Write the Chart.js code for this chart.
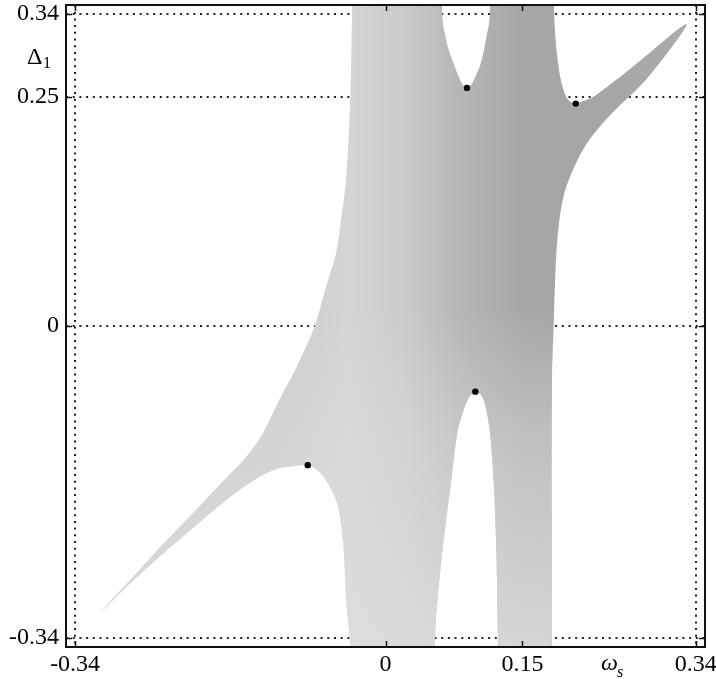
<!DOCTYPE html>
<html lang="en">
<head>
<meta charset="UTF-8" />
<title>Δ1 – ωs region</title>
<script src="https://cdn.jsdelivr.net/npm/chart.js"></script>
<style>
  html, body { margin: 0; padding: 0; background: #fff; }
  canvas { display: block; }
</style>
</head>
<body>
<canvas id="chart" width="716" height="679"></canvas>
<script>
const xTicks = [-0.34, 0, 0.15, 0.34];
const yTicks = [-0.34, 0, 0.25, 0.34];

// outline of the shaded region, clockwise from the top left
// (points at +-0.40 lie outside the axes and are clipped away)
const regionX = [
  -0.0362, 0.0614, 0.0619, 0.0630, 0.0647, 0.0691, 0.0757, 0.0795, 0.0830, 0.0860,
  0.0893, 0.0928, 0.0960, 0.0995, 0.1035, 0.1080, 0.1115, 0.1135, 0.1146, 0.1148,
  0.1843, 0.1846, 0.1855, 0.1872, 0.1900, 0.1927, 0.1974, 0.2025, 0.2084, 0.2160,
  0.2270, 0.2676, 0.3298, 0.2859, 0.2490, 0.2237, 0.2091, 0.1982, 0.1927, 0.1890,
  0.1864, 0.1843, 0.1824, 0.1821, 0.1821, 0.1232, 0.1232, 0.1225, 0.1214, 0.1184,
  0.1141, 0.1086, 0.1040, 0.0984, 0.0930, 0.0885, 0.0793, 0.0721, 0.0628, 0.0556,
  0.0540, 0.0537, -0.0385, -0.0388, -0.0430, -0.0460, -0.0504, -0.0541, -0.0650, -0.0760,
  -0.0852, -0.1017, -0.1200, -0.1382, -0.1747, -0.2113, -0.2479, -0.2844, -0.3118, -0.2665,
  -0.2479, -0.2113, -0.1747, -0.1546, -0.1360, -0.1163, -0.0979, -0.0779, -0.0650, -0.0541,
  -0.0486, -0.0439, -0.0413, -0.0395, -0.0380, -0.0366
];
const regionY = [
  0.40, 0.40, 0.345, 0.330, 0.3204, 0.3015, 0.2836, 0.2735, 0.2658, 0.2615,
  0.2590, 0.2615, 0.2665, 0.2745, 0.2836, 0.3015, 0.3204, 0.330, 0.345, 0.40,
  0.40, 0.345, 0.325, 0.3019, 0.2800, 0.2655, 0.2508, 0.2445, 0.2425, 0.2450,
  0.2494, 0.2800, 0.3292, 0.2691, 0.2330, 0.2035, 0.1784, 0.1525, 0.1306, 0.1019,
  0.0650, 0.0035, -0.0587, -0.345, -0.40, -0.40, -0.345, -0.30, -0.2410, -0.1681,
  -0.1134, -0.0839, -0.0745, -0.0716, -0.0760, -0.0839, -0.1134, -0.1681, -0.2410, -0.3134,
  -0.345, -0.40, -0.40, -0.345, -0.30, -0.24, -0.2042, -0.1899, -0.1681, -0.1560,
  -0.1517, -0.1530, -0.1561, -0.1645, -0.1899, -0.2205, -0.2519, -0.2850, -0.3120, -0.2628,
  -0.2424, -0.2045, -0.1659, -0.1451, -0.1200, -0.0806, -0.0457, -0.0009, 0.0432, 0.0800,
  0.1161, 0.1525, 0.1893, 0.2254, 0.2700, 0.345
];

// marked points
const markX = [0.0893, 0.2084, 0.0984, -0.0852];
const markY = [0.2596, 0.2425, -0.0716, -0.1517];

const regionData = regionX.map((x, i) => ({x, y: regionY[i]}));
const markData = markX.map((x, i) => ({x, y: markY[i]}));

function sideShade(c) {
  const ch = c.chart;
  if (!ch.chartArea) return '#c0c0c0';
  const sx = ch.scales.x;
  const x0 = sx.getPixelForValue(-0.35), x1 = sx.getPixelForValue(0.35);
  const g = ch.ctx.createLinearGradient(x0, 0, x1, 0);
  const at = v => (v + 0.35) / 0.7;
  g.addColorStop(at(-0.35), '#c6c6c6');
  g.addColorStop(at(-0.12), '#cbcbcb');
  g.addColorStop(at(-0.04), '#d5d5d5');
  g.addColorStop(at(0.02), '#cbcbcb');
  g.addColorStop(at(0.08), '#b6b6b6');
  g.addColorStop(at(0.15), '#a7a7a7');
  g.addColorStop(at(0.22), '#a5a5a5');
  g.addColorStop(at(0.35), '#acacac');
  return g;
}

function lowShade(c) {
  const ch = c.chart;
  if (!ch.chartArea) return 'rgba(0,0,0,0)';
  const sy = ch.scales.y;
  const y0 = sy.getPixelForValue(0.35), y1 = sy.getPixelForValue(-0.35);
  const g = ch.ctx.createLinearGradient(0, y0, 0, y1);
  const at = v => (0.35 - v) / 0.7;
  g.addColorStop(at(0.35), 'rgba(222,222,222,0)');
  g.addColorStop(at(0.02), 'rgba(222,222,222,0)');
  g.addColorStop(at(-0.12), 'rgba(222,222,222,0.45)');
  g.addColorStop(at(-0.35), 'rgba(222,222,222,0.85)');
  return g;
}

const framePlugin = {
  id: 'frame',
  afterDraw(chart) {
    const {ctx, chartArea: a, scales: {x, y}} = chart;
    ctx.save();
    ctx.strokeStyle = '#111';
    ctx.lineWidth = 1.5;
    ctx.beginPath();
    xTicks.forEach(v => {
      const p = Math.round(x.getPixelForValue(v)) + 0.5;
      ctx.moveTo(p, a.top); ctx.lineTo(p, a.top + 6);
      ctx.moveTo(p, a.bottom); ctx.lineTo(p, a.bottom - 6);
    });
    yTicks.forEach(v => {
      const p = Math.round(y.getPixelForValue(v)) + 0.5;
      ctx.moveTo(a.left, p); ctx.lineTo(a.left + 6, p);
      ctx.moveTo(a.right, p); ctx.lineTo(a.right - 6, p);
    });
    ctx.stroke();
    ctx.lineWidth = 2;
    ctx.strokeRect(a.left, a.top, a.right - a.left, a.bottom - a.top);

    ctx.fillStyle = '#000';
    ctx.textBaseline = 'alphabetic';
    ctx.font = '24px "Liberation Serif"';
    ctx.fillText('Δ', 27, 64);
    ctx.font = '16px "Liberation Serif"';
    ctx.fillText('1', 43, 68);
    ctx.font = 'italic 24px "Liberation Serif"';
    ctx.fillText('ω', 601, 670);
    ctx.font = 'italic 16px "Liberation Serif"';
    ctx.fillText('s', 617, 677);
    ctx.restore();
  }
};

const tickFont = {family: '"Liberation Serif", serif', size: 24};
const gridOpts = {color: '#222', lineWidth: 2, drawTicks: false};
const borderOpts = {display: false, dash: [2, 4.7]};

const regionStyle = {
  showLine: true,
  fill: 'shape',
  tension: 0.3,
  capBezierPoints: false,
  borderWidth: 0,
  pointRadius: 0
};

new Chart(document.getElementById('chart'), {
  type: 'scatter',
  data: {
    datasets: [
      {
        data: markData,
        order: 0,
        pointRadius: 3.2,
        pointBackgroundColor: '#000',
        pointBorderWidth: 0,
        showLine: false
      },
      Object.assign({data: regionData, order: 1, backgroundColor: lowShade}, regionStyle),
      Object.assign({data: regionData, order: 2, backgroundColor: sideShade}, regionStyle)
    ]
  },
  options: {
    responsive: false,
    animation: false,
    layout: {padding: {top: 5, right: 11, left: 0, bottom: 0}},
    plugins: {legend: {display: false}, tooltip: {enabled: false}},
    scales: {
      x: {
        type: 'linear',
        min: -0.35,
        max: 0.35,
        z: 1,
        afterBuildTicks: s => { s.ticks = xTicks.map(v => ({value: v})); },
        afterFit: s => { s.height = 32; s.paddingLeft = 0; s.paddingRight = 0; },
        ticks: {
          font: tickFont,
          color: '#000',
          padding: 3,
          maxRotation: 0,
          autoSkip: false,
          callback: v => String(v)
        },
        grid: gridOpts,
        border: borderOpts
      },
      y: {
        type: 'linear',
        min: -0.35,
        max: 0.35,
        z: 1,
        afterBuildTicks: s => { s.ticks = yTicks.map(v => ({value: v})); },
        afterFit: s => { s.width = 66; s.paddingTop = 0; s.paddingBottom = 0; },
        ticks: {
          font: tickFont,
          color: '#000',
          padding: 7,
          autoSkip: false,
          callback: v => String(v)
        },
        grid: gridOpts,
        border: borderOpts
      }
    }
  },
  plugins: [framePlugin]
});
</script>
</body>
</html>
